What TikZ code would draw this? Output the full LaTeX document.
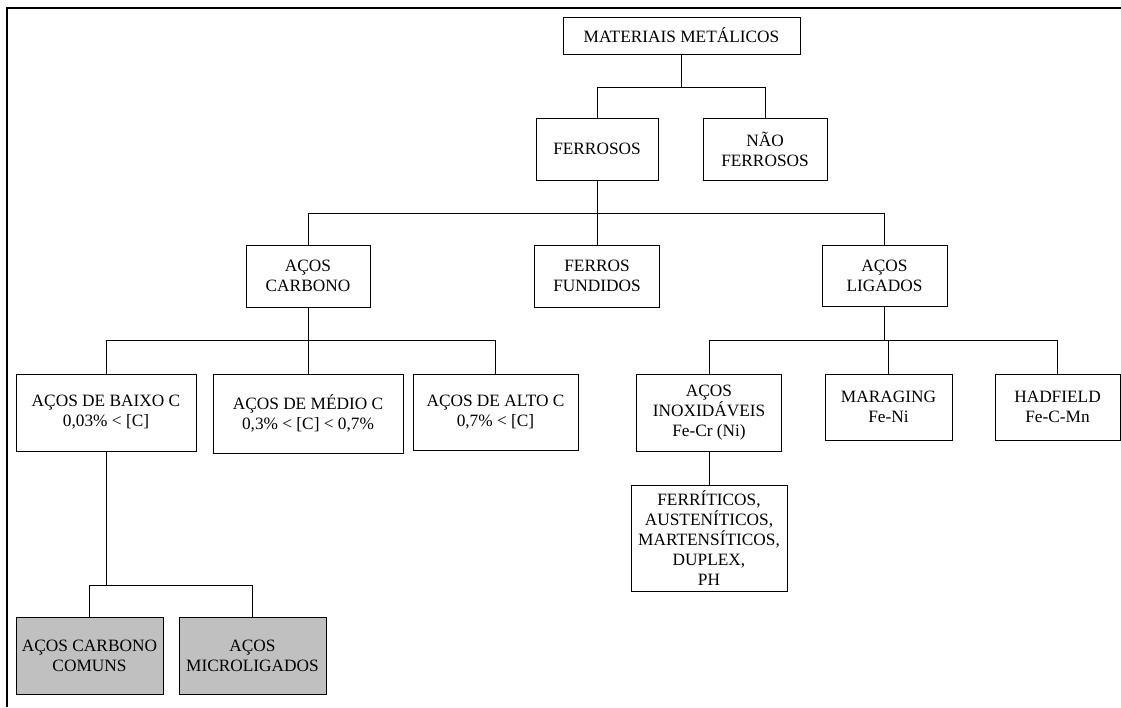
\documentclass[tikz,border=0pt]{standalone}
\usepackage{fontspec}
\setmainfont{Liberation Serif}
\definecolor{boxgray}{RGB}{192,192,192}
\begin{document}
\begin{tikzpicture}[x=1pt,y=-1pt,
  box/.style={draw=black,line width=0.9pt,fill=white,inner sep=0pt,align=center,
    font=\fontsize{17.3}{20}\selectfont},
  graybox/.style={box,fill=boxgray},
  link/.style={draw=black,line width=0.9pt},
  frame/.style={draw=black,line width=1.4pt}]
\useasboundingbox (0,0) rectangle (1121,707);
% partial frame
\coordinate (fa) at (7,707);
\coordinate (fb) at (7,8);
\coordinate (fc) at (1121,8);
\draw[frame] (fa) -- (fb) -- (fc);
% nodes
\node[box,minimum width=237pt,minimum height=37pt] (mm) at (681.5,35.5) {MATERIAIS METÁLICOS};
\node[box,minimum width=122pt,minimum height=62pt] (fer) at (597,149) {FERROSOS};
\node[box,minimum width=124pt,minimum height=62pt] (nfer) at (765,149) {NÃO\\FERROSOS};
\node[box,minimum width=124pt,minimum height=62pt] (ac) at (308,276) {AÇOS\\CARBONO};
\node[box,minimum width=125pt,minimum height=62pt] (ff) at (597,276) {FERROS\\FUNDIDOS};
\node[box,minimum width=125pt,minimum height=61pt] (al) at (884.5,275.5) {AÇOS\\LIGADOS};
\node[box,minimum width=180pt,minimum height=77pt] (baixo) at (106,412.5) {AÇOS DE BAIXO C\\0,03\% < [C]};
\node[box,minimum width=190pt,minimum height=79pt] (medio) at (308,413.5) {AÇOS DE MÉDIO C\\0,3\% < [C] < 0,7\%};
\node[box,minimum width=165pt,minimum height=76pt] (alto) at (495.5,412) {AÇOS DE ALTO C\\0,7\% < [C]};
\node[box,minimum width=145pt,minimum height=77pt] (inox) at (709,412.5) {AÇOS\\INOXIDÁVEIS\\Fe-Cr (Ni)};
\node[box,minimum width=127pt,minimum height=66pt] (mar) at (888.5,407) {MARAGING\\Fe-Ni};
\node[box,minimum width=125pt,minimum height=66pt] (had) at (1057.5,407) {HADFIELD\\Fe-C-Mn};
\node[box,minimum width=156pt,minimum height=106pt] (ferr) at (709,538) {FERRÍTICOS,\\AUSTENÍTICOS,\\MARTENSÍTICOS,\\DUPLEX,\\PH};
\node[graybox,minimum width=147pt,minimum height=77pt] (com) at (89.5,655.5) {AÇOS CARBONO\\COMUNS};
\node[graybox,minimum width=147pt,minimum height=77pt] (micro) at (252.5,655.5) {AÇOS\\MICROLIGADOS};
% bus coordinates
\coordinate (b1) at (681.5,87);
\coordinate (b2) at (597,213);
\coordinate (b3) at (308,340);
\coordinate (b4) at (884.5,340);
\coordinate (b5) at (106,585);
% connectors
\draw[link] (mm.south) -- (b1);
\draw[link] (fer.north) -- (fer.north |- b1) -- (nfer.north |- b1) -- (nfer.north);
\draw[link] (fer.south) -- (ff.north);
\draw[link] (ac.north) -- (ac.north |- b2) -- (al.north |- b2) -- (al.north);
\draw[link] (ac.south) -- (medio.north);
\draw[link] (baixo.north) -- (baixo.north |- b3) -- (alto.north |- b3) -- (alto.north);
\draw[link] (al.south) -- (b4);
\draw[link] (inox.north) -- (inox.north |- b4) -- (had.north |- b4) -- (had.north);
\draw[link] (mar.north) -- (mar.north |- b4);
\draw[link] (inox.south) -- (ferr.north);
\draw[link] (baixo.south) -- (b5);
\draw[link] (com.north) -- (com.north |- b5) -- (micro.north |- b5) -- (micro.north);
\end{tikzpicture}
\end{document}
